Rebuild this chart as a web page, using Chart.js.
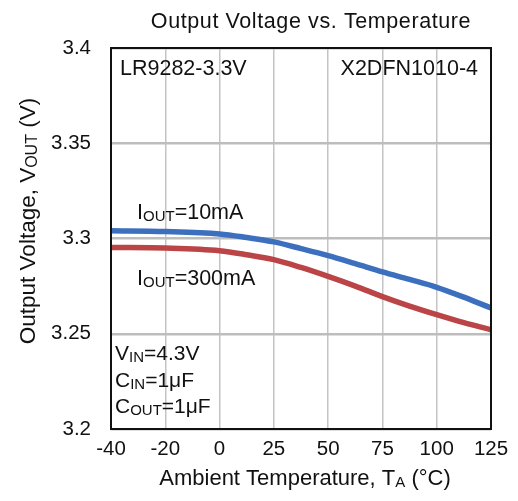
<!DOCTYPE html>
<html>
<head>
<meta charset="utf-8">
<script src="https://cdn.jsdelivr.net/npm/chart.js@4/dist/chart.umd.min.js"></script>
<style>
html,body{margin:0;padding:0;background:#fff;}
#wrap{width:518px;height:501px;position:relative;}
</style>
</head>
<body>
<div id="wrap"><canvas id="c" width="518" height="501"></canvas></div>
<script>
// ---- data ----
const xTickLabels = [-40, -20, 0, 25, 50, 75, 100, 125];
const yTicks = [3.2, 3.25, 3.3, 3.35, 3.4];
const temps = [-40, -20, 0, 12.5, 25, 37.5, 50, 62.5, 75, 87.5, 100, 112.5, 125];
const vout10mA = [3.3041, 3.3037, 3.3024, 3.3005, 3.2982, 3.2947, 3.2910, 3.2868, 3.2825, 3.2785, 3.2744, 3.2692, 3.2635];
const vout300mA = [3.2953, 3.2950, 3.2936, 3.2915, 3.2889, 3.2848, 3.2801, 3.2750, 3.2695, 3.2645, 3.2600, 3.2558, 3.2521];

// temperature -> evenly spaced tick index position (axis ticks are not uniform in value)
function tempToPos(t){
  for(let i=0;i<xTickLabels.length-1;i++){
    const a=xTickLabels[i], b=xTickLabels[i+1];
    if(t>=a && t<=b) return i + (t-a)/(b-a);
  }
  return t < xTickLabels[0] ? 0 : xTickLabels.length-1;
}
const pts = (vals) => temps.map((t,i)=>({x:tempToPos(t), y:vals[i]}));

const FONT = '"Liberation Sans", Arial, sans-serif';

function drawRich(ctx, parts, x, y, size, align, spacing){
  const subSize = Math.round(size*0.7);
  ctx.letterSpacing = (spacing||0)+'px';
  let w=0;
  parts.forEach(p=>{ ctx.font = (p.sub?subSize:size)+'px '+FONT; w += ctx.measureText(p.t).width; });
  let cx = align==='right' ? x-w : align==='center' ? x-w/2 : x;
  ctx.textAlign='left'; ctx.textBaseline='alphabetic';
  parts.forEach(p=>{
    ctx.font = (p.sub?subSize:size)+'px '+FONT;
    ctx.fillText(p.t, cx, p.sub ? y+2 : y);
    cx += ctx.measureText(p.t).width;
  });
  ctx.letterSpacing = '0px';
}

const annot = {
  id:'annot',
  afterDatasetsDraw(chart){
    const ctx = chart.ctx, ca = chart.chartArea;
    ctx.save();
    // frame
    ctx.strokeStyle='#111'; ctx.lineWidth=2;
    ctx.strokeRect(ca.left, ca.top, ca.right-ca.left, ca.bottom-ca.top);
    ctx.fillStyle='#111';
    const s=21.5;
    drawRich(ctx,[{t:'LR9282-3.3V'}], ca.left+9, ca.top+27, s, 'left');
    drawRich(ctx,[{t:'X2DFN1010-4'}], ca.right-13, ca.top+27, s, 'right');
    drawRich(ctx,[{t:'I'},{t:'OUT',sub:true},{t:'=10mA'}], 137, 219, s, 'left');
    drawRich(ctx,[{t:'I'},{t:'OUT',sub:true},{t:'=300mA'}], 137, 285, s, 'left');
    drawRich(ctx,[{t:'V'},{t:'IN',sub:true},{t:'=4.3V'}], 115, 360, 21, 'left');
    drawRich(ctx,[{t:'C'},{t:'IN',sub:true},{t:'=1μF'}], 115, 387, 21, 'left');
    drawRich(ctx,[{t:'C'},{t:'OUT',sub:true},{t:'=1μF'}], 115, 413, 21, 'left');
    // title
    drawRich(ctx,[{t:'Output Voltage vs. Temperature'}], 311, 28, 21.5, 'center', 0.6);
    // x axis title
    drawRich(ctx,[{t:'Ambient Temperature, T'},{t:'A',sub:true},{t:' (°C)'}], 305, 485, 22, 'center');
    // y axis title
    ctx.translate(35, 221);
    ctx.rotate(-Math.PI/2);
    drawRich(ctx,[{t:'Output Voltage, V'},{t:'OUT',sub:true},{t:' (V)'}], 0, 0, 22.5, 'center');
    ctx.restore();
  }
};

new Chart(document.getElementById('c'), {
  type:'line',
  data:{
    datasets:[
      {label:'IOUT=10mA', data:pts(vout10mA), borderColor:'rgb(60,111,190)', borderWidth:5.5, pointRadius:0, cubicInterpolationMode:'monotone', fill:false},
      {label:'IOUT=300mA', data:pts(vout300mA), borderColor:'rgb(186,68,70)', borderWidth:5.5, pointRadius:0, cubicInterpolationMode:'monotone', fill:false}
    ]
  },
  options:{
    responsive:false, animation:false, devicePixelRatio:1,
    layout:{padding:{left:0,right:27,top:48,bottom:0}},
    plugins:{legend:{display:false}, tooltip:{enabled:false}, title:{display:false}},
    scales:{
      x:{
        type:'linear', min:0, max:xTickLabels.length-1,
        afterFit(scale){ scale.height = 72; },
        afterBuildTicks(scale){ scale.ticks = xTickLabels.map((v,i)=>({value:i})); },
        ticks:{ callback:(v)=>String(xTickLabels[v]), color:'#111', font:{family:FONT, size:20.5}, padding:8, maxRotation:0, autoSkip:false },
        grid:{ color:'#c4c4c4', lineWidth:1.5, drawTicks:false },
        border:{ display:false }
      },
      y:{
        min:yTicks[0], max:yTicks[yTicks.length-1],
        afterFit(scale){ scale.width = 111; },
        afterBuildTicks(scale){ scale.ticks = yTicks.map(v=>({value:v})); },
        ticks:{ callback:(v)=>String(v), color:'#111', font:{family:FONT, size:20.5}, padding:20 },
        grid:{ color:'#bdbdbd', lineWidth:2.5, drawTicks:false },
        border:{ display:false }
      }
    }
  },
  plugins:[annot]
});
</script>
</body>
</html>
